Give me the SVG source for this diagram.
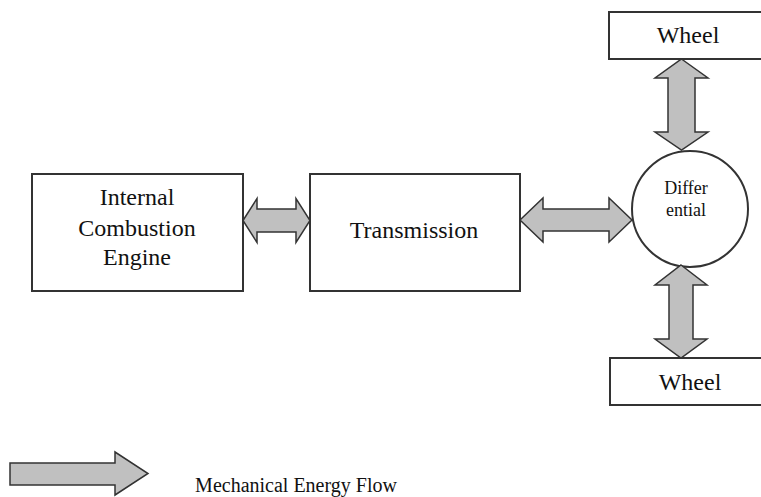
<svg xmlns="http://www.w3.org/2000/svg" width="761" height="497" viewBox="0 0 761 497">
<style>
.box{fill:#fff;stroke:#333;stroke-width:2}
.arr{fill:#c0c0c0;stroke:#333;stroke-width:1.5;stroke-linejoin:miter}
.t{font-family:'Liberation Serif','Times New Roman',serif;fill:#111;text-anchor:middle}
.big{font-size:24px}
.sm{font-size:18px}
.lg{font-size:20px}
</style>
<rect width="761" height="497" fill="#fff"/>
<g id="ice"><rect class="box" x="32" y="174" width="211" height="117"/>
<text class="t big" x="137" y="205" font-family="Liberation Serif, serif">Internal</text><text class="t big" x="137" y="236" font-family="Liberation Serif, serif">Combustion</text><text class="t big" x="137" y="265" font-family="Liberation Serif, serif">Engine</text></g>
<g id="transmission"><rect class="box" x="310" y="174" width="210" height="117"/>
<text class="t big" x="414" y="238" font-family="Liberation Serif, serif">Transmission</text></g>
<g id="differential"><circle class="box" cx="690" cy="209" r="58"/>
<text class="t sm" x="686" y="194" font-family="Liberation Serif, serif">Differ</text><text class="t sm" x="686" y="216" font-family="Liberation Serif, serif">ential</text></g>
<g id="wheel-top"><rect class="box" x="609" y="12" width="160" height="47"/>
<text class="t big" x="688" y="43" font-family="Liberation Serif, serif">Wheel</text></g>
<g id="wheel-bottom"><rect class="box" x="610" y="358" width="160" height="47"/>
<text class="t big" x="690" y="390" font-family="Liberation Serif, serif">Wheel</text></g>
<g id="connectors">
<polygon class="arr" points="243,220.5 257,198.5 257,209 296,209 296,198.5 310,220.5 296,242.5 296,232 257,232 257,242.5"/>
<polygon class="arr" points="520,220 543,198 543,209 609,209 609,198 632,220 609,242 609,231 543,231 543,242"/>
<polygon class="arr" points="681.5,59 708,78 695,78 695,132 708,132 681.5,150 655,132 668,132 668,78 655,78"/>
<polygon class="arr" points="681,265 707,285 693,285 693,339 707,339 681,358 655,339 669,339 669,285 655,285"/>
</g>
<g id="legend">
<polygon class="arr" points="10,463 115,463 115,452 148,473.5 115,495 115,485 10,485"/>
<text class="t lg" x="296" y="492" font-family="Liberation Serif, serif">Mechanical Energy Flow</text>
</g>
</svg>
